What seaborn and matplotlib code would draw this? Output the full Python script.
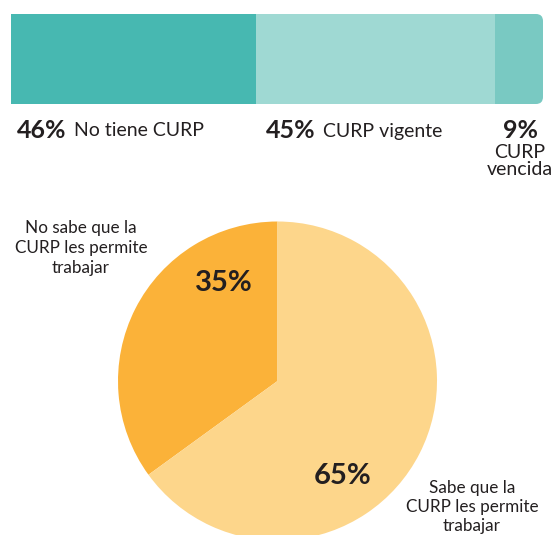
import matplotlib
matplotlib.use("Agg")
import matplotlib.pyplot as plt
from matplotlib.patches import FancyBboxPatch
import seaborn as sns
import pandas as pd

# ---- data ----
bar_categories = ["No tiene CURP", "CURP vigente", "CURP vencida"]
bar_values = [46, 45, 9]
bar_colors = ["#47B8B1", "#9FD9D3", "#79C9C2"]

pie_categories = ["No sabe que la\nCURP les permite\ntrabajar", "Sabe que la\nCURP les permite\ntrabajar"]
pie_values = [35, 65]
pie_colors = ["#FBB239", "#FDD68B"]

sns.set_theme(style="white")
plt.rcParams['font.family'] = ['Lato', 'DejaVu Sans']
TXT = "#231F20"

W, H = 555, 535
fig = plt.figure(figsize=(W / 100, H / 100), dpi=100)

def fx(px): return px / W
def fy(py): return 1 - py / H

# ---- stacked bar ----
bx0, bx1, by0, by1 = 11, 543, 14, 104
axb = fig.add_axes([fx(bx0), fy(by1), fx(bx1) - fx(bx0), (by1 - by0) / H])
cum = []
s = 0
for v in bar_values:
    s += v
    cum.append(s)
df = pd.DataFrame({"cat": ["a"] * 3, "total": cum, "seg": bar_categories})
clip = FancyBboxPatch((-0.2, 0), 1.2, 1,
                      boxstyle="round,pad=0,rounding_size=%f" % (7 / (bx1 - bx0)),
                      mutation_aspect=(bx1 - bx0) / (by1 - by0),
                      transform=axb.transAxes, facecolor="none", edgecolor="none")
axb.add_patch(clip)
for i in reversed(range(len(bar_values))):
    sns.barplot(data=df.iloc[[i]], x="total", y="cat", color=bar_colors[i],
                width=1.0, saturation=1, ax=axb, orient="h")
for p in axb.patches:
    p.set_clip_path(clip)
    p.set_edgecolor("none")
axb.set_xlim(0, 100)
axb.set_ylim(0.5, -0.5)
axb.axis("off")

# bar labels
lbl_y = 130
fig.text(fx(17), fy(lbl_y), "46%", fontsize=18, fontweight="bold", color=TXT, va="center", ha="left")
fig.text(fx(74), fy(lbl_y + 1), bar_categories[0], fontsize=14, color=TXT, va="center", ha="left")
fig.text(fx(266), fy(lbl_y), "45%", fontsize=18, fontweight="bold", color=TXT, va="center", ha="left")
fig.text(fx(323), fy(lbl_y + 1), bar_categories[1], fontsize=14, color=TXT, va="center", ha="left")
fig.text(fx(521), fy(lbl_y), "9%", fontsize=18, fontweight="bold", color=TXT, va="center", ha="center")
fig.text(fx(520), fy(161), "CURP\nvencida", fontsize=14, color=TXT, va="center", ha="center",
         linespacing=0.95)

# ---- pie ----
cx, cy, r = 277.5, 381, 159.5
axp = fig.add_axes([fx(cx - r), fy(cy + r), 2 * r / W, 2 * r / H])
axp.pie(pie_values, colors=pie_colors, startangle=90, counterclock=True,
        wedgeprops=dict(linewidth=0))
axp.set_xlim(-1, 1)
axp.set_ylim(-1, 1)
axp.set_aspect("equal")
axp.axis("off")

fig.text(fx(224), fy(283), "35%", fontsize=21, fontweight="bold", color=TXT, va="center", ha="center")
fig.text(fx(343), fy(476), "65%", fontsize=21, fontweight="bold", color=TXT, va="center", ha="center")
fig.text(fx(81), fy(248), pie_categories[0], fontsize=12.3, color=TXT, va="center", ha="center",
         linespacing=1.3)
fig.text(fx(472), fy(507), pie_categories[1], fontsize=12.3, color=TXT, va="center", ha="center",
         linespacing=1.25)

fig.savefig("out.png", dpi=100, facecolor="white")
